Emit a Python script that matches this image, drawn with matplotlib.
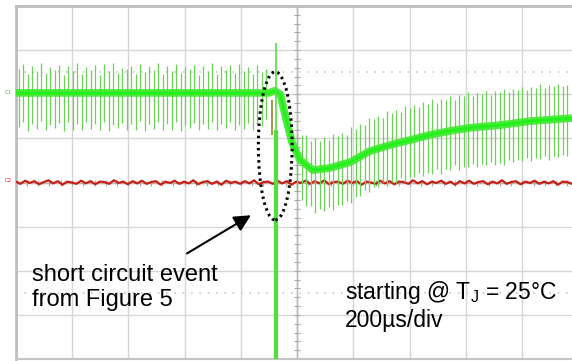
import numpy as np
import matplotlib
matplotlib.use("Agg")
import matplotlib.pyplot as plt
from matplotlib.patches import Ellipse

plt.rcParams['font.family'] = ['Liberation Sans', 'DejaVu Sans']
plt.rcParams['mathtext.fontset'] = 'custom'
plt.rcParams['mathtext.rm'] = 'Liberation Sans'

# ---------------- data (in scope divisions) ----------------
spike_period = 0.08           # spacing of the ripple spikes (div)
pre_start = 0.05              # first ripple spike before the event
pre_level = 2.03              # CH1 level before the event
pre_up = [0.55, 0.66, 0.42, 0.60, 0.50, 0.68, 0.45, 0.58, 0.52, 0.64,
          0.40, 0.61, 0.49, 0.67, 0.44, 0.59, 0.53, 0.63, 0.41, 0.65,
          0.50, 0.68, 0.46, 0.57, 0.54, 0.62, 0.43, 0.66, 0.48, 0.60,
          0.52, 0.67, 0.42, 0.61, 0.50, 0.65, 0.45, 0.58, 0.55, 0.64,
          0.41, 0.62, 0.49, 0.68, 0.44, 0.60, 0.53, 0.63, 0.46, 0.66,
          0.50, 0.59, 0.43, 0.64, 0.48, 0.55]
pre_down = [0.78, 0.66, 0.86, 0.70, 0.82, 0.64, 0.85, 0.72, 0.80, 0.68,
            0.86, 0.67, 0.83, 0.71, 0.85, 0.65, 0.81, 0.70, 0.84, 0.66,
            0.86, 0.73, 0.80, 0.69, 0.84, 0.70, 0.83, 0.64, 0.86, 0.71,
            0.81, 0.67, 0.85, 0.70, 0.83, 0.66, 0.86, 0.72, 0.79, 0.68,
            0.84, 0.71, 0.82, 0.67, 0.85, 0.70, 0.80, 0.66, 0.84, 0.72,
            0.81, 0.69, 0.83, 0.70, 0.76, 0.60]

post_start = 5.0
post_level = [0.60, 0.48, 0.40, 0.32, 0.28, 0.29, 0.30, 0.32, 0.35, 0.37,
              0.40, 0.43, 0.47, 0.53, 0.59, 0.65, 0.70, 0.73, 0.76, 0.79,
              0.83, 0.86, 0.88, 0.91, 0.94, 0.96, 0.99, 1.01, 1.04, 1.06,
              1.09, 1.11, 1.13, 1.15, 1.17, 1.19, 1.20, 1.22, 1.23, 1.25,
              1.26, 1.27, 1.27, 1.28, 1.29, 1.30, 1.31, 1.33, 1.34, 1.35,
              1.37, 1.38, 1.39, 1.40, 1.41, 1.42, 1.43, 1.44, 1.44, 1.45,
              1.46]
post_up = [0.50, 0.60, 0.68, 0.62, 0.72, 0.66, 0.74, 0.64, 0.76, 0.68,
           0.72, 0.65, 0.78, 0.69, 0.74, 0.66, 0.77, 0.70, 0.75, 0.67,
           0.79, 0.71, 0.76, 0.68, 0.80, 0.72, 0.77, 0.69, 0.78, 0.73,
           0.81, 0.70, 0.76, 0.72, 0.80, 0.69, 0.78, 0.74, 0.82, 0.71,
           0.77, 0.73, 0.80, 0.70, 0.78, 0.74, 0.81, 0.72, 0.77, 0.75,
           0.80, 0.71, 0.78, 0.74, 0.82, 0.72, 0.77, 0.75, 0.80, 0.73,
           0.76]
post_down = [0.80, 0.88, 0.94, 0.86, 0.98, 0.90, 0.95, 0.87, 0.97, 0.88,
             0.92, 0.84, 0.93, 0.85, 0.90, 0.81, 0.91, 0.83, 0.86, 0.78,
             0.90, 0.84, 0.88, 0.80, 0.92, 0.83, 0.87, 0.79, 0.90, 0.85,
             0.89, 0.81, 0.93, 0.84, 0.88, 0.80, 0.91, 0.86, 0.89, 0.82,
             0.92, 0.85, 0.88, 0.81, 0.90, 0.86, 0.91, 0.83, 0.87, 0.85,
             0.89, 0.82, 0.90, 0.84, 0.88, 0.81, 0.91, 0.85, 0.87, 0.83,
             0.86]

# CH1 trace core (time div, level div)
core_t = [0.0, 4.50, 4.60, 4.70, 4.80, 4.91, 5.05, 5.28, 5.58, 5.94, 6.29, 6.65,
          7.00, 7.36, 7.72, 8.07, 8.60, 9.14, 9.88]
core_v = [2.03, 2.03, 2.08, 2.0, 1.45, 0.90, 0.51, 0.28, 0.33, 0.46, 0.71, 0.85,
          0.96, 1.08, 1.17, 1.24, 1.30, 1.39, 1.46]

# short-circuit event on CH1
event_t = 4.62
event_peak = 3.16
event_min = -4.2
ch2_event_peak = 1.87

# CH2 trace (≈0 div with noise)
ch2_v = [0.02, -0.03, 0.04, -0.01, 0.03, -0.04, 0.01, 0.05, -0.02, 0.03,
         -0.05, 0.02, 0.00, -0.03, 0.04, -0.02, 0.03, -0.04, 0.02, 0.01,
         -0.03, 0.05, -0.01, 0.02, -0.04, 0.03, -0.02, 0.04, -0.03, 0.01,
         0.03, -0.05, 0.02, -0.01, 0.04, -0.03, 0.02, -0.02, 0.05, -0.04,
         0.01, 0.03, -0.03, 0.02, -0.05, 0.04, -0.01, 0.02, -0.03, 0.03,
         -0.02, 0.05, -0.04, 0.01, 0.02, -0.03, 0.04, -0.02, 0.03, -0.05,
         0.02, -0.01, 0.04, -0.03, 0.03, -0.02, 0.05, -0.04, 0.01, 0.02,
         -0.03, 0.04, -0.01, 0.03, -0.05, 0.02, 0.00, -0.03, 0.04, -0.02,
         0.03, -0.04, 0.02, 0.01, -0.03, 0.05, -0.02, 0.03, -0.04, 0.02,
         -0.01, 0.04, -0.03, 0.02, -0.05, 0.03, -0.02, 0.04, -0.03, 0.01,
         0.03, -0.04, 0.02, -0.02, 0.05, -0.03, 0.01, 0.03, -0.04, 0.02,
         -0.01, 0.04, -0.03, 0.02, -0.02, 0.03, -0.05, 0.02, 0.01, -0.03]

# annotation
ellipse_center = (4.61, 0.83)
ellipse_size = (0.60, 3.36)
arrow_tail = (3.0, -1.64)
arrow_head = (4.22, -0.71)
label_event = "short circuit event\nfrom Figure 5"
label_cond = "starting @ T$_\\mathregular{J}$ = 25°C\n200µs/div"

# ---------------- figure ----------------
W, H = 572, 361
fig = plt.figure(figsize=(W / 100, H / 100), dpi=100)
x0, y_top, y_bot = 15.7, 6, 359
ax = fig.add_axes([x0 / W, (H - y_bot) / H, (W - x0) / W, (y_bot - y_top) / H])
xmax = (W - x0) / 56.3
ax.set_xlim(0, xmax)
ax.set_ylim(-4, 4)

ax.set_xticks(range(0, 10))
ax.set_yticks(range(-4, 5))
ax.tick_params(length=0, labelbottom=False, labelleft=False)
ax.grid(True, color='#d6d6d6', lw=1.0)
ax.set_axisbelow(True)
for s in ['left', 'top']:
    ax.spines[s].set_color('#bdbdbd')
    ax.spines[s].set_linewidth(2.0)
ax.spines['bottom'].set_color('#c4c4c4')
ax.spines['bottom'].set_linewidth(1.5)
ax.spines['right'].set_visible(False)

# center graticule with minor ticks
ax.axvline(5, color='#b4b4b4', lw=1.0, zorder=1)
ax.axhline(0, color='#b4b4b4', lw=1.0, zorder=1)
yt = np.arange(-4, 4.01, 0.2)
ax.plot(np.full_like(yt, 5), yt, ls='none', marker='_', ms=4, mew=0.8, color='#a8a8a8', zorder=1)
xt = np.arange(0, 9.9, 0.2)
ax.plot(xt, np.zeros_like(xt), ls='none', marker='|', ms=4, mew=0.8, color='#a8a8a8', zorder=1)
# dotted reference lines
for yy in (2.5, -2.5):
    ax.axhline(yy, color='#c8c8c8', lw=1.2, ls=(0, (1, 4)), zorder=1)

# CH2 (red)
t2 = np.linspace(0, xmax, len(ch2_v))
ax.plot(t2, ch2_v, color='#c81e14', lw=1.6, zorder=3)

# CH1 ripple spikes
tp = pre_start + spike_period * np.arange(len(pre_up))
ax.vlines(tp, pre_level - np.array(pre_down), pre_level + np.array(pre_up),
          color='#6ad257', lw=0.9, zorder=4)
tq = post_start + spike_period * np.arange(len(post_up))
lv = np.array(post_level)
ax.vlines(tq, lv - np.array(post_down), lv + np.array(post_up),
          color='#6ad257', lw=0.9, zorder=4)

# CH1 core band
ax.plot(core_t, core_v, color='#3ee82c', lw=5.5, zorder=5, solid_capstyle='butt', alpha=0.9)
ax.plot(core_t, core_v, color='#22f01a', lw=2.0, zorder=5, solid_capstyle='butt')

# event spike
ax.vlines(event_t, 1.0, event_peak, color='#55dd44', lw=1.2, zorder=5)
ax.vlines(event_t - 0.06, ch2_event_peak - 0.8, ch2_event_peak, color='#a68a3a', lw=1.3, zorder=6)
ax.vlines(event_t, event_min, 1.2, color='#4fe03c', lw=3.0, zorder=6)

# ellipse + arrow
ax.add_patch(Ellipse(ellipse_center, ellipse_size[0], ellipse_size[1], fill=False,
                     ec='black', lw=2.2, ls=(0, (0.8, 1.2)), zorder=7))
ax.annotate('', xy=arrow_head, xytext=arrow_tail,
            arrowprops=dict(arrowstyle='-|>,head_length=1.0,head_width=0.5',
                            color='black', lw=1.5), zorder=8)

ax.text(0.29, -1.85, label_event, fontsize=17, va='top', ha='left',
        linespacing=1.18, zorder=8)
ax.text(5.85, -2.18, label_cond, fontsize=16.5, va='top', ha='left',
        linespacing=1.18, zorder=8)

# channel markers
fig.text(5 / W, 1 - 92 / H, 'C1', fontsize=4, color='#44cc33', va='center')
fig.text(5 / W, 1 - 180 / H, 'C2', fontsize=4, color='#cc2222', va='center')

fig.savefig('out.png', dpi=100)
